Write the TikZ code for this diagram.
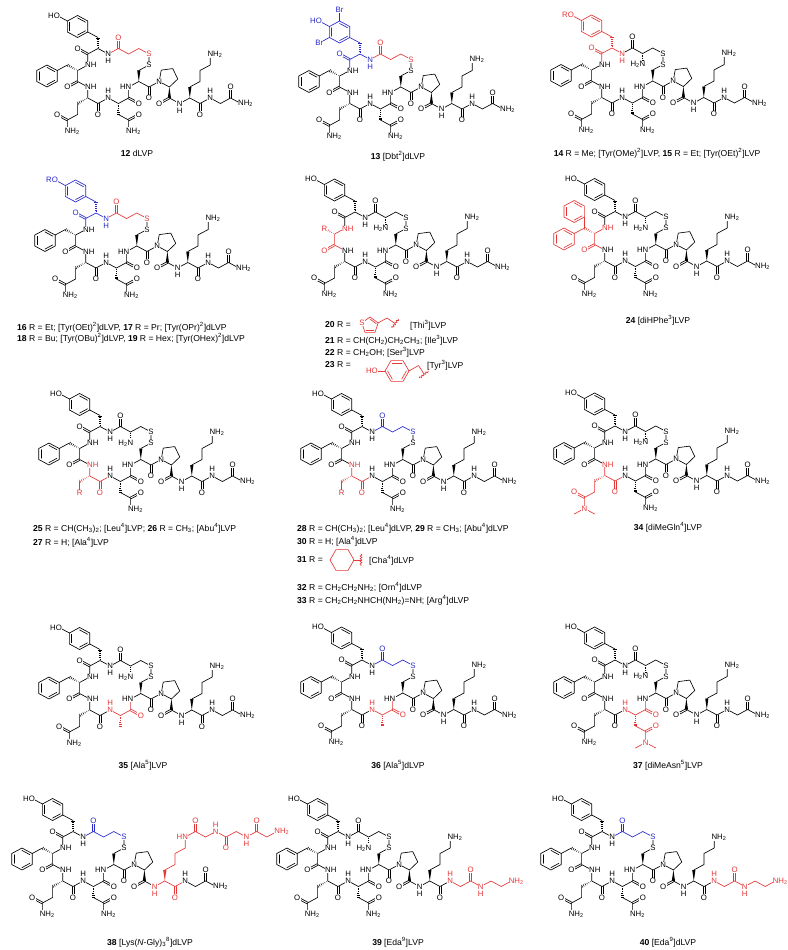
\documentclass[tikz,border=0pt]{standalone}
\usepackage{fontspec}
\setmainfont{Liberation Sans}
\usetikzlibrary{calc,decorations.pathmorphing}
\pgfdeclarelayer{background}
\pgfdeclarelayer{bonds}
\pgfsetlayers{background,bonds,main}
\definecolor{cred}{RGB}{230,55,55}
\definecolor{cblue}{RGB}{40,40,205}
\newcommand\afont{\fontsize{7.8}{7.8}\selectfont}
\newcommand\cfont{\fontsize{8.6}{10}\selectfont}
\tikzset{
  bd/.style={line width=0.65pt,line cap=round,line join=round},
  atm/.style={inner sep=0.3pt,fill=white,font=\afont},
  capt/.style={inner sep=0pt,font=\cfont},
  wvy/.style={line width=0.65pt,decorate,decoration={snake,amplitude=0.9pt,segment length=2.6pt}},
}
% ---------- helpers ----------
\newcommand\DB[3]{%
  \draw[bd,#1] ($#2!0.9pt!90:#3$) -- ($#3!0.9pt!-90:#2$);
  \draw[bd,#1] ($#2!0.9pt!-90:#3$) -- ($#3!0.9pt!90:#2$);}
\newcommand\WD[3]{\fill[#1] #2 -- ($#3!1.6pt!90:#2$) -- ($#3!1.6pt!-90:#2$) -- cycle;}
\newcommand\HS[3]{%
  \foreach \pp/\ww in {0.12/0.3pt,0.29/0.55pt,0.46/0.8pt,0.63/1.05pt,0.8/1.3pt,0.95/1.55pt}{%
    \path #2 -- coordinate[pos=\pp] (hp) #3;
    \draw[#1,line width=0.5pt] ($(hp)!\ww!90:#3$) -- ($(hp)!\ww!-90:#3$);}}
\newcommand\BZ[3]{%
  \draw[bd,#1] (#2,#3-2) -- (#2+1,#3-1) -- (#2+1,#3+1) -- (#2,#3+2) -- (#2-1,#3+1) -- (#2-1,#3-1) -- cycle;
  \draw[bd,#1] ($(#2,#3)!0.78!(#2,#3-2)$) -- ($(#2,#3)!0.78!(#2+1,#3-1)$);
  \draw[bd,#1] ($(#2,#3)!0.78!(#2+1,#3+1)$) -- ($(#2,#3)!0.78!(#2,#3+2)$);
  \draw[bd,#1] ($(#2,#3)!0.78!(#2-1,#3+1)$) -- ($(#2,#3)!0.78!(#2-1,#3-1)$);}
\newcommand\LC[3]{\node[atm,text=#1] at #2 {#3};}
\newcommand\LW[3]{\node[atm,text=#1,anchor=west,xshift=-3.1pt] at #2 {#3};}
\newcommand\LE[3]{\node[atm,text=#1,anchor=east,xshift=3.2pt] at #2 {#3};}
\newcommand\HB[2]{\node[atm,text=#1,yshift=-7pt] at #2 {H};}
\newcommand\HA[2]{\node[atm,text=#1,yshift=7pt] at #2 {H};}
% ---------- residues ----------
\newcommand\XTyr[3]{%
  \begin{pgfonlayer}{bonds}
    \BZ{#1}{-2}{-4}
    \draw[bd,#1] (-3,-5) -- (-4,-6);
    \draw[bd,#1] (-1,-3) -- (0,-2);
    \HS{#1}{(0,0)}{(0,-2)}
    \draw[bd,#1] (-1,3) -- (-1,1) -- (0,0) -- (1,1);
    \DB{#1}{(-1,1)}{(-2,0)}
    \ifnum#3=1
      \draw[bd,#1] (-2,-6) -- (-2,-8);
      \draw[bd,#1] (-3,-3) -- (-4,-2);
    \fi
  \end{pgfonlayer}
  \LE{#1}{(-4,-6)}{#2}
  \LC{#1}{(-2,0)}{O}
  \LC{#1}{(1,1)}{N}\HB{#1}{(1,1)}
  \ifnum#3=1 \LC{#1}{(-2,-8)}{Br}\LC{#1}{(-4,-2)}{Br}\fi}
\newcommand\XOne[2]{%
  \begin{pgfonlayer}{bonds}
    \draw[bd,#1] (1,1) -- (2,0) -- (3,1) -- (4,0) -- (5,1);
    \DB{#1}{(2,0)}{(2,-2)}
    \ifnum#2=1 \HS{#1}{(3,1)}{(3,3)}\fi
  \end{pgfonlayer}
  \LC{#1}{(2,-2)}{O}
  \LC{#1}{(5,1)}{S}
  \ifnum#2=1 \LE{#1}{(3,3)}{H\textsubscript{2}N}\fi}
\newcommand\XCys{%
  \begin{pgfonlayer}{bonds}
    \draw[bd] (5,1) -- (5,3) -- (4,4);
    \WD{black}{(4,6)}{(4,4)}
    \draw[bd] (3,7) -- (4,6) -- (5,7) -- (6,6);
    \DB{black}{(5,7)}{(5,9)}
    \draw[bd] (6,6) -- (7,7) -- (7.82,5.55) -- (7.33,3.65) -- (6.2,3.93) -- cycle;
    \WD{black}{(7,7)}{(7,9)}
    \draw[bd] (7,9) -- (8,10);
    \DB{black}{(7,9)}{(6,10)}
  \end{pgfonlayer}
  \LC{black}{(5,3)}{S}
  \LE{black}{(3,7)}{HN}
  \LC{black}{(5,9)}{O}
  \LC{black}{(6,6)}{N}
  \LC{black}{(6,10)}{O}}
\newcommand\XLys[2]{%
  \begin{pgfonlayer}{bonds}
    \draw[bd,#1] (8,10) -- (9,9) -- (10,10) -- (11,9);
    \DB{#1}{(10,10)}{(10,12)}
    \WD{#1}{(9,9)}{(9,7)}
    \draw[bd,#1] (9,7) -- (10,6) -- (10,4) -- (11,3) -- (11,1);
    \ifnum#2=1
      \draw[bd,#1] (11,1) -- (12,0) -- (13,1) -- (14,0) -- (15,1) -- (16,0) -- (17,1) -- (18,0) -- (19,1) -- (20,0);
      \DB{#1}{(12,0)}{(12,-2)}\DB{#1}{(15,1)}{(15,3)}\DB{#1}{(18,0)}{(18,-2)}
    \fi
  \end{pgfonlayer}
  \LC{#1}{(8,10)}{N}\HB{#1}{(8,10)}
  \LC{#1}{(10,12)}{O}
  \ifnum#2=1
    \LE{#1}{(11,1)}{HN}\LC{#1}{(12,-2)}{O}\LC{#1}{(14,0)}{N}\HA{#1}{(14,0)}
    \LC{#1}{(15,3)}{O}\LC{#1}{(17,1)}{N}\HB{#1}{(17,1)}\LC{#1}{(18,-2)}{O}
    \LW{#1}{(20,0)}{NH\textsubscript{2}}
  \else
    \LW{#1}{(11,1)}{NH\textsubscript{2}}
  \fi}
\newcommand\XGly[2]{%
  \begin{pgfonlayer}{bonds}
    \draw[bd,#1] (11,9) -- (12,10) -- (13,9) -- (14,10);
    \DB{#1}{(13,9)}{(13,7)}
    \ifnum#2=1 \draw[bd,#1] (14,10) -- (15,9) -- (16,10) -- (17,9);\fi
  \end{pgfonlayer}
  \LC{#1}{(11,9)}{N}\HA{#1}{(11,9)}
  \LC{#1}{(13,7)}{O}
  \ifnum#2=1 \LC{#1}{(14,10)}{N}\HB{#1}{(14,10)}\LW{#1}{(17,9)}{NH\textsubscript{2}}%
  \else \LW{#1}{(14,10)}{NH\textsubscript{2}}\fi}
\newcommand\XPhe[2]{%
  \begin{pgfonlayer}{bonds}
    \draw[bd,#1] (-1,3) -- (-2,4) -- (-2,6) -- (-1,7);
    \DB{#1}{(-2,6)}{(-3,7)}
    \HS{#1}{(-2,4)}{(-3,3)}
    \ifnum#2=1 \else \draw[bd,#1] (-3,3) -- (-4,4); \BZ{#1}{-5}{5}\fi
    \ifnum#2=2 \draw[bd,#1] (-3,3) -- (-3,1); \BZ{#1}{-4}{0}\fi
  \end{pgfonlayer}
  \LW{#1}{(-1,3)}{NH}
  \LC{#1}{(-3,7)}{O}
  \ifnum#2=1 \LC{#1}{(-3,3)}{R}\fi}
\newcommand\XGln[2]{%
  \begin{pgfonlayer}{bonds}
    \draw[bd,#1] (-1,7) -- (-1,9) -- (0,10) -- (1,9);
    \DB{#1}{(0,10)}{(0,12)}
    \HS{#1}{(-1,9)}{(-2,10)}
    \ifnum#2=1
      \draw[bd,#1] (-2,10) -- (-2,12);
    \else
      \draw[bd,#1] (-2,10) -- (-2,12) -- (-3,13) -- (-3,15);
      \DB{#1}{(-3,13)}{(-4,12)}
    \fi
    \ifnum#2=2 \draw[bd,#1] (-4,16) -- (-3,15) -- (-2,16);\fi
  \end{pgfonlayer}
  \LW{#1}{(-1,7)}{NH}
  \LC{#1}{(0,12)}{O}
  \ifcase#2\relax
    \LC{#1}{(-4,12)}{O}\LW{#1}{(-3,15)}{NH\textsubscript{2}}
  \or \LC{#1}{(-2,12)}{R}
  \or \LC{#1}{(-4,12)}{O}\LC{#1}{(-3,15)}{N}
  \fi}
\newcommand\XAsn[2]{%
  \begin{pgfonlayer}{bonds}
    \draw[bd,#1] (1,9) -- (2,10) -- (3,9) -- (3,7);
    \DB{#1}{(3,9)}{(4,10)}
    \HS{#1}{(2,10)}{(2,12)}
    \ifnum#2=1 \else
      \draw[bd,#1] (2,12) -- (3,13) -- (3,15);
      \DB{#1}{(3,13)}{(4,12)}
    \fi
    \ifnum#2=2 \draw[bd,#1] (2,16) -- (3,15) -- (4,16);\fi
  \end{pgfonlayer}
  \LC{#1}{(1,9)}{N}\HA{#1}{(1,9)}
  \LC{#1}{(4,10)}{O}
  \ifcase#2\relax
    \LC{#1}{(4,12)}{O}\LW{#1}{(3,15)}{NH\textsubscript{2}}
  \or
  \or \LC{#1}{(4,12)}{O}\LC{#1}{(3,15)}{N}
  \fi}
\newcommand\Mol[2]{\begin{scope}[shift={#1},x=10.2pt,y=-5.5pt]#2\end{scope}}
\begin{document}
\begin{tikzpicture}[x=1pt,y=-1pt]
\useasboundingbox (0,0) rectangle (787,950);
\begin{pgfonlayer}{background}\fill[white] (0,0) rectangle (787,950);\end{pgfonlayer}
% ===== row 1 =====
\Mol{(98,48.5)}{\XTyr{black}{HO}{0}\XOne{cred}{0}\XCys\XPhe{black}{0}\XGln{black}{0}\XAsn{black}{0}\XLys{black}{0}\XGly{black}{0}}
\Mol{(360,54)}{\XTyr{cblue}{HO}{1}\XOne{cred}{0}\XCys\XPhe{black}{0}\XGln{black}{0}\XAsn{black}{0}\XLys{black}{0}\XGly{black}{0}}
\Mol{(612,48)}{\XTyr{cred}{RO}{0}\XOne{black}{1}\XCys\XPhe{black}{0}\XGln{black}{0}\XAsn{black}{0}\XLys{black}{0}\XGly{black}{0}}
\node[capt] (c12) at (137,153) {\textbf{12} dLVP};
\node[capt] (c13) at (398,156) {\textbf{13} [Dbt\textsuperscript{2}]dLVP};
\node[capt] (c14) at (657,153) {\textbf{14} R = Me; [Tyr(OMe)\textsuperscript{2}]LVP, \textbf{15} R = Et; [Tyr(OEt)\textsuperscript{2}]LVP};
% ===== row 2 =====
\Mol{(96,213)}{\XTyr{cblue}{RO}{0}\XOne{cred}{0}\XCys\XPhe{black}{0}\XGln{black}{0}\XAsn{black}{0}\XLys{black}{0}\XGly{black}{0}}
\Mol{(355,212)}{\XTyr{black}{HO}{0}\XOne{black}{1}\XCys\XPhe{cred}{1}\XGln{black}{0}\XAsn{black}{0}\XLys{black}{0}\XGly{black}{0}}
\Mol{(615,211.5)}{\XTyr{black}{HO}{0}\XOne{black}{1}\XCys\XPhe{cred}{2}\XGln{black}{0}\XAsn{black}{0}\XLys{black}{0}\XGly{black}{0}}
\node[capt,anchor=west] (c16) at (17,327) {\textbf{16} R = Et; [Tyr(OEt)\textsuperscript{2}]dLVP, \textbf{17} R = Pr; [Tyr(OPr)\textsuperscript{2}]dLVP};
\node[capt,anchor=west] (c18) at (17,338) {\textbf{18} R = Bu; [Tyr(OBu)\textsuperscript{2}]dLVP, \textbf{19} R = Hex; [Tyr(OHex)\textsuperscript{2}]dLVP};
% 20: thiophene
\node[capt,anchor=west] (c20) at (325,325) {\textbf{20} R =};
\draw[bd,cred] (361.9,322.9) -- (370,317) -- (378.1,322.9) -- (375,332.4) -- (365,332.4) -- cycle;
\draw[bd,cred] ($(370,325.5)!0.75!(370,317)$) -- ($(370,325.5)!0.75!(378.1,322.9)$);
\draw[bd,cred] ($(370,325.5)!0.75!(375,332.4)$) -- ($(370,325.5)!0.75!(365,332.4)$);
\draw[bd,cred] (378.1,322.9) -- (387,318) -- (395,323.5);
\draw[wvy,cred] (392,328) -- (398.5,319);
\node[atm,text=cred] (s20) at (361.9,322.9) {S};
\node[capt,anchor=west] (t20) at (410,325) {[Thi\textsuperscript{3}]LVP};
\node[capt,anchor=west] (c21) at (325,340) {\textbf{21} R = CH(CH\textsubscript{2})CH\textsubscript{2}CH\textsubscript{3}; [Ile\textsuperscript{3}]LVP};
\node[capt,anchor=west] (c22) at (325,352) {\textbf{22} R = CH\textsubscript{2}OH; [Ser\textsuperscript{3}]LVP};
% 23: 4-hydroxybenzyl
\node[capt,anchor=west] (c23) at (325,365) {\textbf{23} R =};
\draw[bd,cred] (409,371) -- (403,360.6) -- (391,360.6) -- (385,371) -- (391,381.4) -- (403,381.4) -- cycle;
\draw[bd,cred] ($(397,371)!0.78!(403,360.6)$) -- ($(397,371)!0.78!(391,360.6)$);
\draw[bd,cred] ($(397,371)!0.78!(385,371)$) -- ($(397,371)!0.78!(391,381.4)$);
\draw[bd,cred] ($(397,371)!0.78!(403,381.4)$) -- ($(397,371)!0.78!(409,371)$);
\draw[bd,cred] (385,371) -- (375,371);
\draw[bd,cred] (409,371) -- (418.5,365.5) -- (424,374);
\draw[wvy,cred] (419.5,378) -- (428.5,371);
\node[atm,text=cred,anchor=east,xshift=3.2pt] (o23) at (375,371) {HO};
\node[capt,anchor=west] (t23) at (427,365) {[Tyr\textsuperscript{3}]LVP};
\node[capt] (c24) at (658,320) {\textbf{24} [diHPhe\textsuperscript{3}]LVP};
% ===== row 3 =====
\Mol{(100,426.5)}{\XTyr{black}{HO}{0}\XOne{black}{1}\XCys\XPhe{black}{0}\XGln{cred}{1}\XAsn{black}{0}\XLys{black}{0}\XGly{black}{0}}
\Mol{(362,426.5)}{\XTyr{black}{HO}{0}\XOne{cblue}{0}\XCys\XPhe{black}{0}\XGln{cred}{1}\XAsn{black}{0}\XLys{black}{0}\XGly{black}{0}}
\Mol{(615,426)}{\XTyr{black}{HO}{0}\XOne{black}{1}\XCys\XPhe{black}{0}\XGln{cred}{2}\XAsn{black}{0}\XLys{black}{0}\XGly{black}{0}}
\node[capt,anchor=west] (c25) at (33,528) {\textbf{25} R = CH(CH\textsubscript{3})\textsubscript{2}; [Leu\textsuperscript{4}]LVP; \textbf{26} R = CH\textsubscript{3}; [Abu\textsuperscript{4}]LVP};
\node[capt,anchor=west] (c27) at (33,542) {\textbf{27} R = H; [Ala\textsuperscript{4}]LVP};
\node[capt,anchor=west] (c28) at (297,528) {\textbf{28} R = CH(CH\textsubscript{3})\textsubscript{2}; [Leu\textsuperscript{4}]dLVP, \textbf{29} R = CH\textsubscript{3}; [Abu\textsuperscript{4}]dLVP};
\node[capt,anchor=west] (c30) at (297,541) {\textbf{30} R = H; [Ala\textsuperscript{4}]dLVP};
\node[capt,anchor=west] (c31) at (297,560) {\textbf{31} R =};
\draw[bd,cred] (354,560) -- (348,549.6) -- (336,549.6) -- (330,560) -- (336,570.4) -- (348,570.4) -- cycle;
\draw[bd,cred] (354,560) -- (361,560);
\draw[wvy,cred] (361,554) -- (361,566);
\node[capt,anchor=west] (t31) at (369,560) {[Cha\textsuperscript{4}]dLVP};
\node[capt,anchor=west] (c32) at (297,587) {\textbf{32} R = CH\textsubscript{2}CH\textsubscript{2}NH\textsubscript{2}; [Orn\textsuperscript{4}]dLVP};
\node[capt,anchor=west] (c33) at (297,600) {\textbf{33} R = CH\textsubscript{2}CH\textsubscript{2}NHCH(NH\textsubscript{2})=NH; [Arg\textsuperscript{4}]dLVP};
\node[capt] (c34) at (668,527) {\textbf{34} [diMeGln\textsuperscript{4}]LVP};
% ===== row 4 =====
\Mol{(100,660.5)}{\XTyr{black}{HO}{0}\XOne{black}{1}\XCys\XPhe{black}{0}\XGln{black}{0}\XAsn{cred}{1}\XLys{black}{0}\XGly{black}{0}}
\Mol{(362,660)}{\XTyr{black}{HO}{0}\XOne{cblue}{0}\XCys\XPhe{black}{0}\XGln{black}{0}\XAsn{cred}{1}\XLys{black}{0}\XGly{black}{0}}
\Mol{(615,660)}{\XTyr{black}{HO}{0}\XOne{black}{1}\XCys\XPhe{black}{0}\XGln{black}{0}\XAsn{cred}{2}\XLys{black}{0}\XGly{black}{0}}
\node[capt] (c35) at (143,765) {\textbf{35} [Ala\textsuperscript{5}]LVP};
\node[capt] (c36) at (398,765) {\textbf{36} [Ala\textsuperscript{5}]dLVP};
\node[capt] (c37) at (668,765) {\textbf{37} [diMeAsn\textsuperscript{5}]LVP};
% ===== row 5 =====
\Mol{(73,831.5)}{\XTyr{black}{HO}{0}\XOne{cblue}{0}\XCys\XPhe{black}{0}\XGln{black}{0}\XAsn{black}{0}\XLys{cred}{1}\XGly{black}{0}}
\Mol{(338,831.5)}{\XTyr{black}{HO}{0}\XOne{black}{1}\XCys\XPhe{black}{0}\XGln{black}{0}\XAsn{black}{0}\XLys{black}{0}\XGly{cred}{1}}
\Mol{(602,831.5)}{\XTyr{black}{HO}{0}\XOne{cblue}{0}\XCys\XPhe{black}{0}\XGln{black}{0}\XAsn{black}{0}\XLys{black}{0}\XGly{cred}{1}}
\node[capt] (c38) at (150,942) {\textbf{38} [Lys(\textit{N}-Gly)\textsubscript{3}\textsuperscript{8}]dLVP};
\node[capt] (c39) at (398,942) {\textbf{39} [Eda\textsuperscript{9}]LVP};
\node[capt] (c40) at (668,942) {\textbf{40} [Eda\textsuperscript{9}]dLVP};
\end{tikzpicture}
\end{document}
